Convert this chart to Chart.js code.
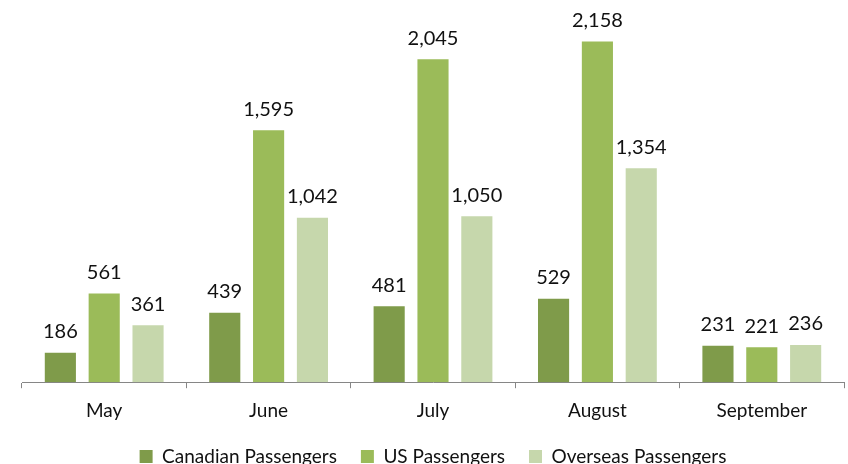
<!DOCTYPE html>
<html>
<head>
<meta charset="utf-8">
<script src="https://cdn.jsdelivr.net/npm/chart.js@4"></script>
<style>
  html, body { margin: 0; padding: 0; background: #fff; }
  #wrap { width: 848px; height: 464px; }
</style>
</head>
<body>
<div id="wrap"><canvas id="grafico" width="848" height="464"></canvas></div>
<script>
const months = ['May', 'June', 'July', 'August', 'September'];
const canadian = [186, 439, 481, 529, 231];
const us = [561, 1595, 2045, 2158, 221];
const overseas = [361, 1042, 1050, 1354, 236];

const FONT = 'Lato, "Open Sans", sans-serif';

// etiquetas de valor encima de cada barra
const valueLabels = {
  id: 'valueLabels',
  afterDatasetsDraw(chart) {
    const c = chart.ctx;
    c.save();
    c.font = '20px ' + FONT;
    c.fillStyle = '#111';
    c.textAlign = 'center';
    c.textBaseline = 'bottom';
    chart.data.datasets.forEach((ds, i) => {
      chart.getDatasetMeta(i).data.forEach((bar, j) => {
        c.fillText(ds.data[j].toLocaleString('en-US'), bar.x, bar.y - 11);
      });
    });
    c.restore();
  }
};

new Chart(document.getElementById('grafico'), {
  type: 'bar',
  data: {
    labels: months,
    datasets: [
      { label: 'Canadian Passengers', data: canadian, backgroundColor: '#7F9B4A' },
      { label: 'US Passengers', data: us, backgroundColor: '#9BBB59' },
      { label: 'Overseas Passengers', data: overseas, backgroundColor: '#C6D7AC' }
    ]
  },
  options: {
    responsive: false,
    animation: false,
    layout: { padding: { left: 22, right: 4, top: 0, bottom: -12 } },
    datasets: { bar: { categoryPercentage: 0.8, barPercentage: 0.71 } },
    plugins: {
      legend: {
        position: 'bottom',
        labels: { font: { family: FONT, size: 19 }, color: '#111', boxWidth: 13, boxHeight: 13, padding: 24 }
      },
      tooltip: { enabled: false }
    },
    scales: {
      x: {
        grid: { display: true, drawOnChartArea: false, color: '#868686', tickLength: 6 },
        border: { color: '#868686' },
        ticks: { font: { family: FONT, size: 19 }, color: '#111', padding: 11 },
        afterFit: s => { s.height -= 10; }
      },
      y: {
        min: 0,
        max: 2420,
        display: false
      }
    }
  },
  plugins: [valueLabels]
});
</script>
</body>
</html>
